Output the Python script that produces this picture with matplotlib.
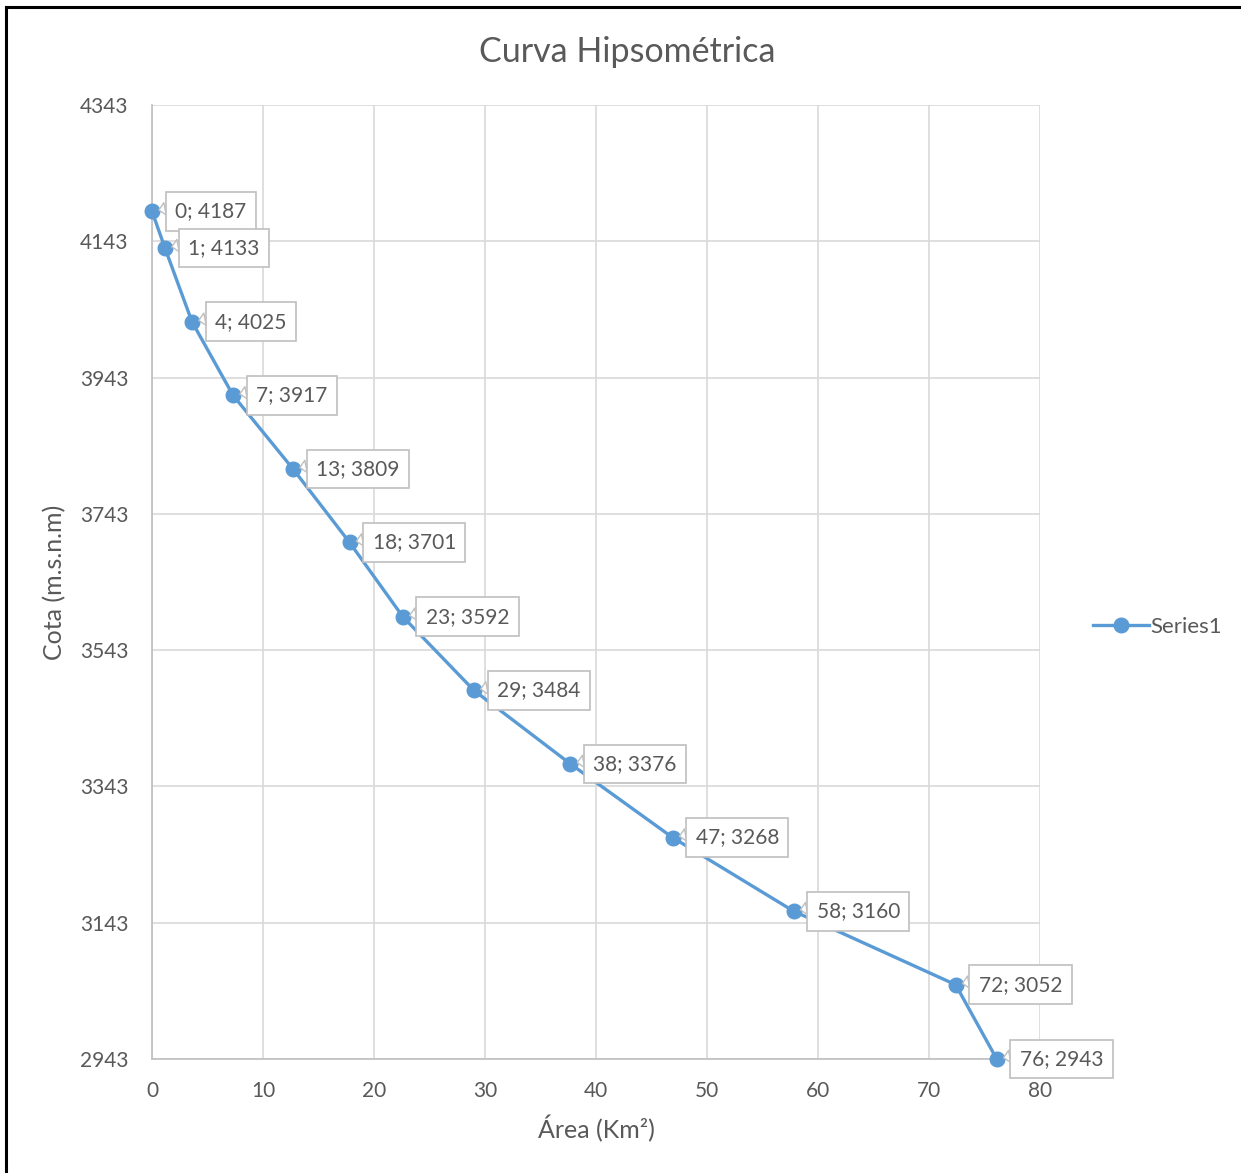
import matplotlib.pyplot as plt
from matplotlib.lines import Line2D

# Hypsometric curve: cumulative area (km2) against elevation (m.s.n.m)
area_km2 = [0.0, 1.17, 3.6, 7.3, 12.7, 17.8, 22.6, 29.0, 37.7, 46.9, 57.8, 72.4, 76.1]
cota_m = [4187, 4133, 4025, 3917, 3809, 3701, 3592, 3484, 3376, 3268, 3160, 3052, 2943]
x_ticks = [0, 10, 20, 30, 40, 50, 60, 70, 80]
y_ticks = [2943, 3143, 3343, 3543, 3743, 3943, 4143, 4343]

LINE_BLUE = "#5b9bd5"
TEXT_GREY = "#595959"
GRID_GREY = "#d9d9d9"

plt.rcParams["font.family"] = ["Lato", "DejaVu Sans"]

fig = plt.figure(figsize=(12.41, 11.73), dpi=100)
ax = fig.add_axes([152 / 1241, 1 - 1059 / 1173, 888 / 1241, 954 / 1173])

ax.plot(area_km2, cota_m, color=LINE_BLUE, linewidth=2.4, marker="o",
        markersize=10.5, label="Series1", zorder=3, clip_on=False)

# callout-style data labels, pointer leaves the box near its upper-left corner
for x, y in zip(area_km2, cota_m):
    ax.annotate(f"{x:.0f}; {y:.0f}", xy=(x, y), xytext=(23, 0),
                textcoords="offset pixels", ha="left", va="center",
                fontsize=15, color=TEXT_GREY, zorder=5,
                bbox=dict(boxstyle="square,pad=0.45", fc="white",
                          ec="#bfbfbf", lw=1.2),
                arrowprops=dict(arrowstyle="wedge,tail_width=0.6",
                                fc="white", ec="#bfbfbf", lw=1.0,
                                relpos=(0.0, 0.72), shrinkA=0, shrinkB=5))

ax.set_xlim(0, 80)
ax.set_ylim(2943, 4343)
ax.set_xticks(x_ticks)
ax.set_yticks(y_ticks)
ax.grid(True, color=GRID_GREY, linewidth=1.2, zorder=0)
ax.set_axisbelow(True)
for side in ("top", "right"):
    ax.spines[side].set_visible(False)
for side in ("left", "bottom"):
    ax.spines[side].set_color("#bfbfbf")
    ax.spines[side].set_linewidth(1.2)
ax.tick_params(axis="both", length=0, labelsize=15, labelcolor=TEXT_GREY)
ax.tick_params(axis="y", pad=17)
ax.tick_params(axis="x", pad=16)

ax.set_xlabel("Área (Km²)", fontsize=18, color=TEXT_GREY, labelpad=10)
ax.set_ylabel("Cota (m.s.n.m)", fontsize=18, color=TEXT_GREY, labelpad=10)
fig.text(627 / 1241, 1 - 52 / 1173, "Curva Hipsométrica", ha="center",
         va="center", fontsize=24.5, color=TEXT_GREY)

leg = ax.legend(loc="center left", bbox_to_anchor=(1073 / 1241, 1 - 627 / 1173),
                bbox_transform=fig.transFigure, frameon=False, fontsize=16,
                handlelength=2.5, handletextpad=0.1, labelcolor=TEXT_GREY)

# outer chart frame (left and top edges only)
fig.add_artist(Line2D([6 / 1241, 6 / 1241], [0, 1 - 7 / 1173],
                      transform=fig.transFigure, color="black", linewidth=2.2))
fig.add_artist(Line2D([6 / 1241, 1], [1 - 7 / 1173, 1 - 7 / 1173],
                      transform=fig.transFigure, color="black", linewidth=2.2))

fig.savefig("out.png", dpi=100)
